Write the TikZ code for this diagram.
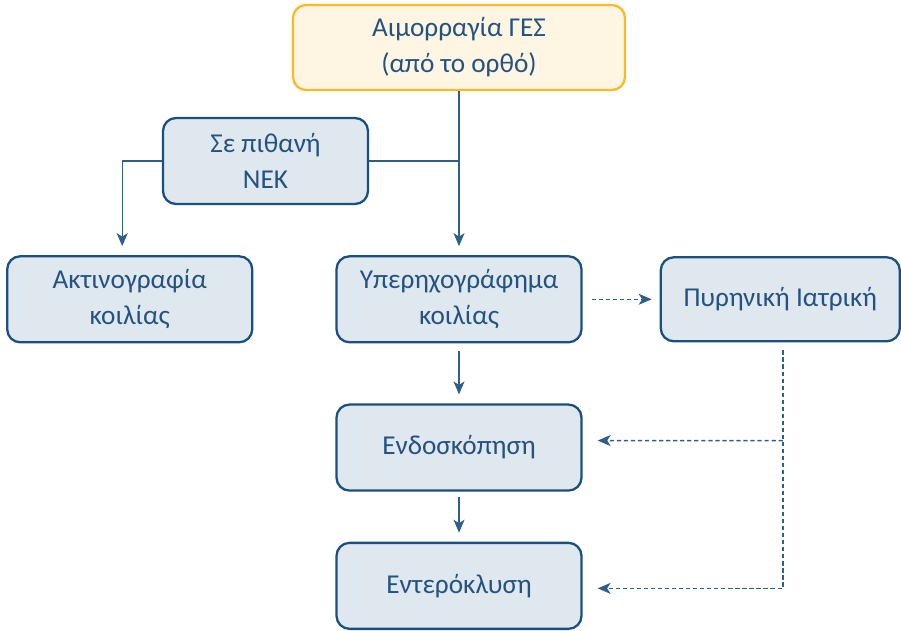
\documentclass[tikz,border=0pt]{standalone}
\usepackage{fontspec}
\setmainfont{Carlito}
\usetikzlibrary{arrows.meta, positioning}
\definecolor{boxfill}{HTML}{DFE7EF}
\definecolor{boxline}{HTML}{1B4F7F}
\definecolor{textblue}{HTML}{245282}
\definecolor{lineblue}{HTML}{2E5E8C}
\definecolor{startfill}{HTML}{FFF5E3}
\definecolor{startline}{HTML}{FDB827}

\begin{document}
\begin{tikzpicture}[
        box/.style={rectangle, rounded corners=0.26cm, draw=boxline, line width=1.3pt, fill=boxfill, minimum width=4.9cm, minimum height=1.72cm, align=center, text=textblue, font=\fontsize{15.5}{20.5}\selectfont},
        start/.style={box, draw=startline, fill=startfill, minimum width=6.64cm, minimum height=1.7cm},
        link/.style={-{Stealth[length=0.26cm, width=0.22cm, inset=0.07cm]}, draw=lineblue, line width=0.8pt},
        maybe/.style={link, dash pattern=on 2.4pt off 1.6pt},
        node distance=1.2cm and 1.6cm
    ]
    \useasboundingbox (0,0) rectangle (18.02,-12.62);

    % Boxes
    \node[start] (Bleed) at (9.18,-0.95) {Αιμορραγία ΓΕΣ\\(από το ορθό)};
    \node[box, below=3.28cm of Bleed] (US) {Υπερηχογράφημα\\κοιλίας};
    \node[box, left=1.64cm of US] (Xray) {Ακτινογραφία\\κοιλίας};
    \node[box, right=1.54cm of US, minimum width=4.78cm, minimum height=1.68cm] (NM) {Πυρηνική Ιατρική};
    \node[box, below=1.2cm of US] (Endo) {Ενδοσκόπηση};
    \node[box, below=1cm of Endo] (Entero) {Εντερόκλυση};
    \node[box, minimum width=4.1cm] (NEK) at (5.31,-3.22) {Σε πιθανή\\ΝΕΚ};

    % Solid arrows
    \draw[link, shorten >=0.18cm] (Bleed.south) -- (Bleed.south |- US.north);
    \draw[draw=lineblue, line width=0.8pt] (NEK.east) -- (NEK.east -| Bleed.south);
    \draw[link, shorten >=0.18cm] (NEK.west) -| ([xshift=-0.15cm]Xray.north);
    \draw[link, shorten <=0.16cm, shorten >=0.18cm] (US) -- (Endo);
    \draw[link, shorten <=0.1cm, shorten >=0.18cm] (Endo) -- (Entero);

    % Dashed arrows
    \draw[maybe, shorten <=0.18cm, shorten >=0.16cm] (US.east) -- (NM.west);
    \coordinate (drop) at ([xshift=0.05cm, yshift=-0.16cm]NM.south);
    \draw[maybe, shorten >=0.3cm] (drop) |- ([yshift=-0.05cm]Entero.east);
    \draw[maybe, shorten >=0.3cm] (drop |- Endo.east) ++(0,0.14) -- ([yshift=0.14cm]Endo.east);

\end{tikzpicture}
\end{document}
